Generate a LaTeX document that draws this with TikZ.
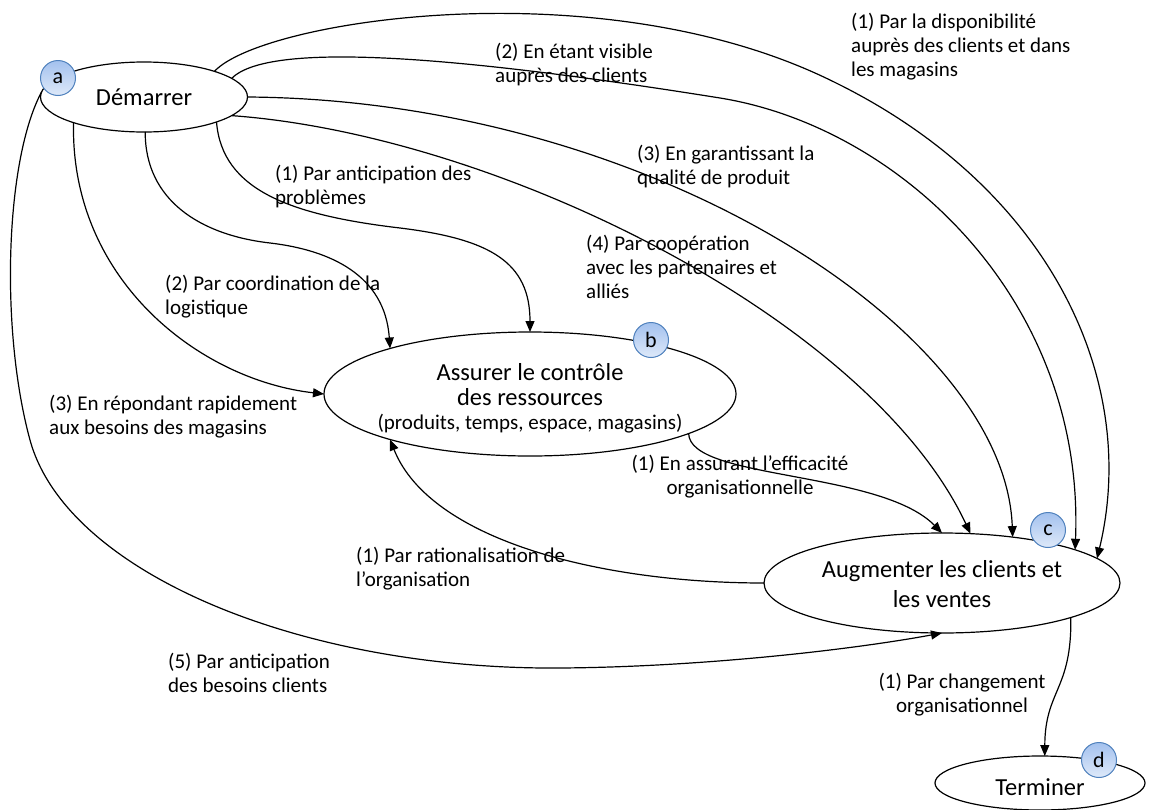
\documentclass[tikz,border=0pt]{standalone}
\usepackage{fontspec}
\setmainfont{Carlito}
\usetikzlibrary{shapes.geometric,arrows.meta}
\definecolor{bdr}{RGB}{79,129,189}
\definecolor{btop}{RGB}{163,193,238}
\definecolor{bbot}{RGB}{222,233,249}
\newcommand\ntext[2]{\smash{\makebox[0pt]{\raisebox{#1}{\begin{tabular}[t]{@{}c@{}}#2\end{tabular}}}}}
\newcommand\lbltext[2]{\begin{tabular}[t]{@{}#1@{}}#2\end{tabular}}
\begin{document}
\begin{tikzpicture}[x=1pt,y=-1pt,
  elli/.style={ellipse,draw,line width=1.2pt,inner sep=0pt,outer sep=0pt,fill=white,font=\fontsize{24.5}{28}\selectfont},
  badge/.style={circle,draw=bdr,line width=1pt,top color=btop,bottom color=bbot,minimum size=35pt,inner sep=0pt,font=\fontsize{22}{22}\selectfont},
  lbl/.style={inner sep=0pt,anchor=base west,font=\fontsize{21}{24}\selectfont},
  clbl/.style={inner sep=0pt,anchor=base,font=\fontsize{21}{24}\selectfont},
  conn/.style={line width=1.2pt,-{Triangle[length=11pt,width=9pt]}}]
\fill[white] (0,0) rectangle (1154,809);
\useasboundingbox (0,0) rectangle (1154,809);

% ellipses
\node[elli,minimum width=207pt,minimum height=70pt] (dem) at (144,97) {\ntext{-8pt}{Démarrer}};
\node[elli,minimum width=412pt,minimum height=124pt] (asr) at (530,394) {\ntext{14pt}{Assurer le contrôle\\[-3pt]des ressources\\[-4pt]{\fontsize{21}{24}\selectfont(produits, temps, espace, magasins)}}};
\node[elli,minimum width=356pt,minimum height=100pt] (aug) at (942,583) {\ntext{6pt}{Augmenter les clients et\\[2pt]les ventes}};
\node[elli,minimum width=210pt,minimum height=54pt] (trm) at (1040,783) {\ntext{-12pt}{Terminer}};

% connectors
\draw[conn] (dem.20) .. controls (262,20) and (600,-32) .. (830,80) .. controls (1050,186) and (1140,380) .. (aug.9);
\draw[conn] (dem.12) .. controls (265,45) and (420,50) .. (720,98) .. controls (900,127) and (1085,300) .. (aug.14);
\draw[conn] (dem.0) .. controls (650,100) and (1005,330) .. (aug.33);
\draw[conn] (dem.-12) .. controls (500,135) and (870,320) .. (aug.60);
\draw[conn] (dem.-19) .. controls (222,190) and (290,215) .. (400,228) .. controls (490,239) and (530,262) .. (asr.90);
\draw[conn] (dem.-88) .. controls (145,200) and (200,235) .. (270,243) .. controls (330,250) and (385,275) .. (asr.162.5);
\draw[conn] (dem.200) .. controls (70,280) and (200,380) .. (asr.180);
\draw[conn] (dem.177) .. controls (5,160) and (0,330) .. (30,440) .. controls (66,572) and (300,670) .. (560,668) .. controls (700,667) and (850,650) .. (aug.-90);
\draw[conn] (asr.-14.8) .. controls (690,480) and (880,470) .. (aug.90);
\draw[conn] (aug.180) .. controls (600,583) and (430,540) .. (asr.-162.5);
\draw[conn] (aug.-15) .. controls (1072,690) and (1045,690) .. (trm.80);

% labels
\node[lbl] (l1) at (851,28) {\lbltext{l}{(1) Par la disponibilité\\auprès des clients et dans\\les magasins}};
\node[lbl] (l2) at (495,58) {\lbltext{l}{(2) En étant visible\\auprès des clients}};
\node[lbl] (l3) at (637,160) {\lbltext{l}{(3) En garantissant la\\qualité de produit}};
\node[lbl] (l4) at (586,250) {\lbltext{l}{(4) Par coopération\\avec les partenaires et\\alliés}};
\node[lbl] (l5) at (275,180) {\lbltext{l}{(1) Par anticipation des\\problèmes}};
\node[lbl] (l6) at (165,290) {\lbltext{l}{(2) Par coordination de la\\logistique}};
\node[lbl] (l7) at (49,410) {\lbltext{l}{(3) En répondant rapidement\\aux besoins des magasins}};
\node[lbl] (l8) at (168,668) {\lbltext{l}{(5) Par anticipation\\des besoins clients}};
\node[lbl] (l9) at (356,562) {\lbltext{l}{(1) Par rationalisation de\\l’organisation}};
\node[clbl] (l10) at (740,470) {\lbltext{c}{(1) En assurant l’efficacité\\organisationnelle}};
\node[clbl] (l11) at (962,688) {\lbltext{c}{(1) Par changement\\organisationnel}};

% badges
\node[badge] (ba) at (58,78) {a};
\node[badge] (bb) at (651,340) {b};
\node[badge] (bc) at (1048,530) {c};
\node[badge] (bd) at (1099,760) {d};
\end{tikzpicture}
\end{document}
